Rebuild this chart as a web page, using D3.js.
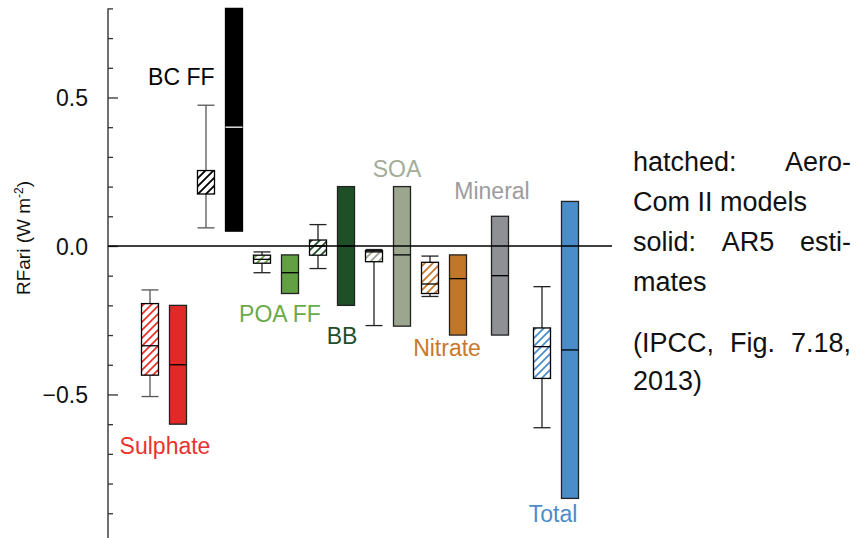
<!DOCTYPE html>
<html>
<head>
<meta charset="utf-8">
<script src="https://cdn.jsdelivr.net/npm/d3@7"></script>
<style>
html,body{margin:0;padding:0;background:#fff;}
svg{display:block;}
</style>
</head>
<body>
<svg id="chart" width="859" height="538"></svg>
<script>
// ---- data ----
const categories = ["Sulphate","BC FF","POA FF","BB","SOA","Nitrate","Mineral","Total"];
// AeroCom II model spread (hatched boxes)
const modelLow    = [-0.507, 0.061, -0.090, -0.076, -0.268, -0.170, null, -0.612];
const modelQ1     = [-0.435, 0.175, -0.058, -0.031, -0.053, -0.160, null, -0.446];
const modelMedian = [-0.336, null,  -0.045,  0.000, -0.020, -0.128, null, -0.339];
const modelQ3     = [-0.194, 0.254, -0.031,  0.020, -0.016, -0.055, null, -0.276];
const modelHigh   = [-0.148, 0.474, -0.020,  0.072, -0.012, -0.034, null, -0.137];
// AR5 estimates (solid boxes)
const ar5Best = [-0.40, 0.40, -0.09,  0.00, -0.03, -0.11, -0.10, -0.35];
const ar5Low  = [-0.60, 0.05, -0.16, -0.20, -0.27, -0.30, -0.30, -0.85];
const ar5High = [-0.20, 0.80, -0.03,  0.20,  0.20, -0.03,  0.10,  0.15];
const yTicks = [-0.9,-0.8,-0.7,-0.6,-0.5,-0.4,-0.3,-0.2,-0.1,0,0.1,0.2,0.3,0.4,0.5,0.6,0.7,0.8];
const yTickLabels = ["0.5","0.0","\u22120.5"];
const noteLines = [
  ["hatched:","Aero-"],
  ["Com II models"],
  ["solid:","AR5","esti-"],
  ["mates"],
  ["(IPCC,","Fig.","7.18,"],
  ["2013)"]
];
const justified = [true,false,true,false,true,false];

// ---- styles ----
const fillColors = ["#e02a27","#000000","#62a043","#1e4f27","#9ca68f","#c27628","#8f9094","#4a8dca"];
const hatchColors = ["#e8332e","#000000","#6aaa4a","#1e4f27","#9ca68f","#c8792c","#8f9094","#4a8dca"];
const textColors = ["#e8332e","#000000","#6aaa4a","#1f4f2a","#a3ad98","#c8792c","#9c9ca0","#4a8dca"];
const medianColors = ["#000","#fff","#000","#000","#000","#000","#000","#000"];
// label placement: [dx from group centre, dy from reference pixel, anchor ref]
const labelLayout = [
  {ref:"low", dx:1, dy:30},
  {ref:"boxhigh", dx:-6, dy:-20, anchor:"end"},
  {ref:"low", dx:4, dy:29},
  {ref:"low", dx:10, dy:39},
  {ref:"high", dx:9, dy:-10},
  {ref:"low", dx:3, dy:21},
  {ref:"high", dx:-8, dy:-17},
  {ref:"low", dx:-3, dy:24}
];

const svg = d3.select("#chart");
const font = "'Liberation Sans', Arial, Helvetica, sans-serif";

const y = d3.scaleLinear().domain([-0.985, 0.8]).range([538.5, 8.4]);
const x = d3.scaleBand().domain(categories).range([136, 136 + 56*categories.length]);
const axisX = 108;
const boxW = 17;
const off = 14;

// hatch patterns
const defs = svg.append("defs");
categories.forEach((c,i)=>{
  const p = defs.append("pattern").attr("id","hatch"+i)
    .attr("patternUnits","userSpaceOnUse").attr("width",8).attr("height",8);
  p.append("rect").attr("width",8).attr("height",8).attr("fill","#fff");
  p.append("path").attr("d","M-2,2 L2,-2 M0,8 L8,0 M6,10 L10,6")
    .attr("stroke",hatchColors[i]).attr("stroke-width",1.8);
});

// axis
const axis = d3.axisRight(y).tickValues(yTicks)
  .tickSize(5).tickFormat("");
const gAxis = svg.append("g").attr("transform",`translate(${axisX},0)`).call(axis);
gAxis.select(".domain").remove();
gAxis.selectAll(".tick line")
  .attr("x2", d => Math.abs(Math.round(d*10)) % 5 === 0 ? 10 : 5)
  .attr("stroke","#333").attr("stroke-width",1.3);
svg.append("line").attr("x1",axisX).attr("x2",axisX)
  .attr("y1",y.range()[1]).attr("y2",y.range()[0])
  .attr("stroke","#333").attr("stroke-width",1.4);
// tick labels
const labVals = [0.5,0,-0.5];
svg.selectAll(".ylab").data(labVals).enter().append("text")
  .attr("x",88).attr("y",d=>y(d)).attr("dy","0.38em")
  .attr("text-anchor","end").attr("font-family",font).attr("font-size",23)
  .attr("fill","#111").text((d,i)=>yTickLabels[i]);

// y title
const yt = svg.append("text").attr("transform","translate(30,238) rotate(-90)")
  .attr("text-anchor","middle").attr("font-family",font).attr("font-size",19).attr("fill","#111");
yt.append("tspan").text("RFari (W m");
yt.append("tspan").attr("font-size",12).attr("dy",-7).text("-2");
yt.append("tspan").attr("dy",7).text(")");

const cx = c => x(c) + x.bandwidth()/2;
const hasModel = i => modelQ1[i] !== null;

// model boxes (hatched)
categories.forEach((c,i)=>{
  if(!hasModel(i)) return;
  const xc = cx(c) - off;
  const g = svg.append("g");
  const wc = i < 2 ? "#555" : "#222";
  g.append("line").attr("x1",xc).attr("x2",xc).attr("y1",y(modelHigh[i])).attr("y2",y(modelQ3[i]))
    .attr("stroke",wc).attr("stroke-width",1.3);
  g.append("line").attr("x1",xc).attr("x2",xc).attr("y1",y(modelQ1[i])).attr("y2",y(modelLow[i]))
    .attr("stroke",wc).attr("stroke-width",1.3);
  [modelHigh[i], modelLow[i]].forEach(v=>{
    g.append("line").attr("x1",xc-boxW/2).attr("x2",xc+boxW/2).attr("y1",y(v)).attr("y2",y(v))
      .attr("stroke",wc).attr("stroke-width",1.3);
  });
  g.append("rect").attr("x",xc-boxW/2).attr("width",boxW)
    .attr("y",y(modelQ3[i])).attr("height",y(modelQ1[i])-y(modelQ3[i]))
    .attr("fill",`url(#hatch${i})`).attr("stroke","#000").attr("stroke-width",1.3);
  if(modelMedian[i] !== null){
    g.append("line").attr("x1",xc-boxW/2).attr("x2",xc+boxW/2)
      .attr("y1",y(modelMedian[i])).attr("y2",y(modelMedian[i]))
      .attr("stroke","#000").attr("stroke-width",1.3);
  }
});

// AR5 boxes (solid)
categories.forEach((c,i)=>{
  const xc = cx(c) + (hasModel(i) ? off : 0);
  const g = svg.append("g");
  g.append("rect").attr("x",xc-boxW/2).attr("width",boxW)
    .attr("y",y(ar5High[i])).attr("height",y(ar5Low[i])-y(ar5High[i]))
    .attr("fill",fillColors[i]).attr("stroke", i===1 ? "#000" : "#222").attr("stroke-width",1.3);
  g.append("line").attr("x1",xc-boxW/2).attr("x2",xc+boxW/2)
    .attr("y1",y(ar5Best[i])).attr("y2",y(ar5Best[i]))
    .attr("stroke",medianColors[i]).attr("stroke-width",1.3);
});

// zero line
svg.append("line").attr("x1",axisX).attr("x2",612).attr("y1",y(0)).attr("y2",y(0))
  .attr("stroke","#000").attr("stroke-width",1.3);

// category labels
categories.forEach((c,i)=>{
  const L = labelLayout[i];
  let ry;
  if(L.ref==="low") ry = y(Math.min(ar5Low[i], hasModel(i)?modelLow[i]:Infinity));
  else if(L.ref==="high") ry = y(ar5High[i]);
  else ry = y(modelHigh[i]);
  let xx = cx(c) + L.dx;
  let anchor = "middle";
  if(L.anchor==="end"){ xx = cx(c) - off + boxW/2 + L.dx + 6; anchor="end"; }
  svg.append("text").attr("x",xx).attr("y",ry + L.dy)
    .attr("text-anchor",anchor).attr("font-family",font).attr("font-size",23)
    .attr("fill",textColors[i]).text(c);
});

// note text, justified
const noteLeft = 633, noteRight = 851;
const baselines = [171, 211, 251, 291, 352, 390];
noteLines.forEach((words,li)=>{
  const g = svg.append("g");
  const ts = words.map(w => g.append("text").attr("y",baselines[li])
     .attr("font-family",font).attr("font-size",27).attr("fill","#111").text(w));
  const widths = ts.map(t => t.node().getComputedTextLength());
  if(justified[li] && words.length>1){
    const total = d3.sum(widths);
    const gap = (noteRight - noteLeft - total)/(words.length-1);
    let xx = noteLeft;
    ts.forEach((t,k)=>{ t.attr("x",xx); xx += widths[k] + gap; });
  } else {
    let xx = noteLeft;
    ts.forEach((t,k)=>{ t.attr("x",xx); xx += widths[k] + 7.5; });
  }
});
</script>
</body>
</html>
